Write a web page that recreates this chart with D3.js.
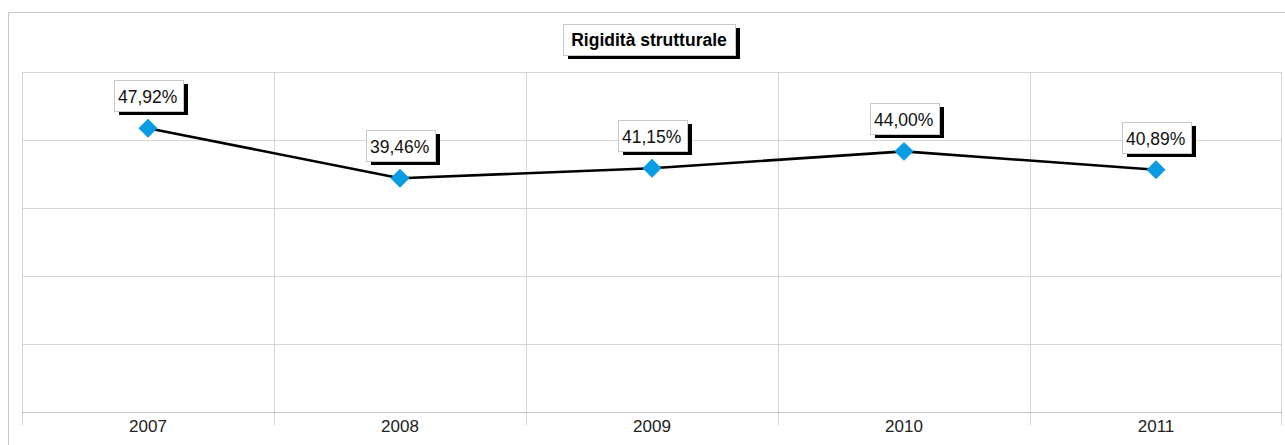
<!DOCTYPE html>
<html>
<head>
<meta charset="utf-8">
<script src="https://cdnjs.cloudflare.com/ajax/libs/d3/7.8.5/d3.min.js"></script>
<style>
  html, body { margin: 0; padding: 0; background: #fff; }
  svg { display: block; font-family: "Liberation Sans", Arial, sans-serif; }
</style>
</head>
<body>
<div id="chart"></div>
<script>
// data
const years = ['2007', '2008', '2009', '2010', '2011'];
const values = [47.92, 39.46, 41.15, 44.00, 40.89];
const labels = ['47,92%', '39,46%', '41,15%', '44,00%', '40,89%'];
const title = 'Rigidità strutturale';

drawChart();

function drawChart(){
    const width = 1285, height = 445;
    const plot = {left: 22, top: 72, right: 1282, bottom: 412};

    const svg = d3.select('#chart').append('svg')
        .attr('width', width)
        .attr('height', height);

    // outer frame
    svg.append('rect')
        .attr('x', 8.5).attr('y', 12.5)
        .attr('width', width + 10).attr('height', height + 10)
        .attr('fill', 'none').attr('stroke', '#c8c8c8');

    // scales
    const x = d3.scaleBand().domain(years).range([plot.left, plot.right]);
    const y = d3.scaleLinear().domain([0, 57.4]).range([plot.bottom, plot.top]);

    // horizontal grid
    svg.append('g').selectAll('line')
        .data(d3.range(0, 6))
        .enter().append('line')
        .attr('x1', plot.left).attr('x2', plot.right)
        .attr('y1', function(i){ return Math.round(plot.top + i * (plot.bottom - plot.top) / 5) + 0.5; })
        .attr('y2', function(i){ return Math.round(plot.top + i * (plot.bottom - plot.top) / 5) + 0.5; })
        .attr('stroke', '#d6d6d6');

    // vertical grid (band boundaries, extending below axis as ticks)
    const bounds = years.map(function(d){ return x(d); }).concat([plot.right - 1]);
    svg.append('g').selectAll('line')
        .data(bounds)
        .enter().append('line')
        .attr('x1', function(d){ return Math.round(d) + 0.5; })
        .attr('x2', function(d){ return Math.round(d) + 0.5; })
        .attr('y1', plot.top).attr('y2', plot.bottom + 13)
        .attr('stroke', '#d6d6d6');

    // x axis line
    svg.append('line')
        .attr('x1', plot.left).attr('x2', plot.right)
        .attr('y1', plot.bottom + 0.5).attr('y2', plot.bottom + 0.5)
        .attr('stroke', '#c4c4c4');

    // category labels
    svg.append('g').selectAll('text')
        .data(years)
        .enter().append('text')
        .attr('x', function(d){ return x(d) + x.bandwidth() / 2; })
        .attr('y', 432)
        .attr('text-anchor', 'middle')
        .attr('font-size', 17)
        .attr('fill', '#222')
        .text(function(d){ return d; });

    // the line
    const line = d3.line()
        .x(function(d, i){ return x(years[i]) + x.bandwidth() / 2; })
        .y(function(d){ return y(d); });

    svg.append('path')
        .datum(values)
        .attr('d', line)
        .attr('fill', 'none')
        .attr('stroke', '#000')
        .attr('stroke-width', 2.6);

    // diamond markers
    svg.append('g').selectAll('path')
        .data(values)
        .enter().append('path')
        .attr('transform', function(d, i){ return 'translate(' + (x(years[i]) + x.bandwidth() / 2) + ',' + y(d) + ') rotate(45)'; })
        .attr('d', d3.symbol(d3.symbolSquare, 180)())
        .attr('fill', '#0a9be3');

    // value labels in boxes with shadow
    const lab = svg.append('g').selectAll('g')
        .data(values)
        .enter().append('g');

    lab.each(function(d, i){
        const g = d3.select(this);
        const cx = x(years[i]) + x.bandwidth() / 2;
        const bottom = Math.round(y(d) - 17);
        const t = g.append('text')
            .attr('font-size', 17.5)
            .attr('fill', '#111')
            .text(labels[i]);
        const w = t.node().getComputedTextLength();
        const bw = Math.round(w + 10), bh = 31;
        const bx = Math.round(cx - bw / 2), by = bottom - bh;
        g.insert('rect', 'text')
            .attr('x', bx + 5).attr('y', by + 4)
            .attr('width', bw).attr('height', bh)
            .attr('fill', '#000');
        g.insert('rect', 'text')
            .attr('x', bx + 0.5).attr('y', by + 0.5)
            .attr('width', bw).attr('height', bh)
            .attr('fill', '#fff').attr('stroke', '#c8c8c8');
        t.attr('x', bx + 4).attr('y', by + 23);
    });

    // title box
    const tg = svg.append('g');
    const tt = tg.append('text')
        .attr('font-size', 17.5)
        .attr('font-weight', 'bold')
        .attr('fill', '#000')
        .text(title);
    const tw = tt.node().getComputedTextLength();
    const tbw = Math.round(tw + 16), tbh = 31;
    const tbx = Math.round(649 - tbw / 2), tby = 24;
    tg.insert('rect', 'text')
        .attr('x', tbx + 5).attr('y', tby + 4)
        .attr('width', tbw).attr('height', tbh)
        .attr('fill', '#000');
    tg.insert('rect', 'text')
        .attr('x', tbx + 0.5).attr('y', tby + 0.5)
        .attr('width', tbw).attr('height', tbh)
        .attr('fill', '#fff').attr('stroke', '#c8c8c8');
    tt.attr('x', 649).attr('y', tby + 22).attr('text-anchor', 'middle');
}
</script>
</body>
</html>
